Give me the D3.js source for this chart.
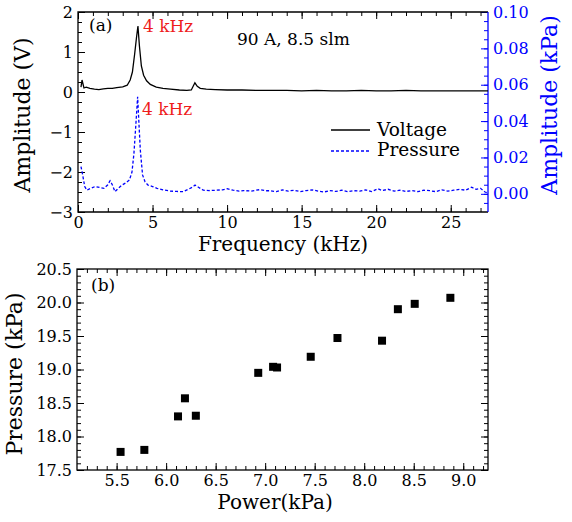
<!DOCTYPE html>
<html>
<head>
<meta charset="utf-8">
<script src="https://cdn.jsdelivr.net/npm/d3@7"></script>
<style>
  body { margin: 0; background: #fff; }
  text { font-family: "DejaVu Serif", serif; }
</style>
</head>
<body>
<svg id="chart" width="572" height="522"></svg>
<script>
// Panel (a): spectra
const voltFreq = [0.2, 0.27, 0.4, 0.55, 0.8, 1.1, 1.4, 1.7, 2.0, 2.3, 2.6, 3.0, 3.3, 3.5, 3.65, 3.8, 3.92, 4.02, 4.12, 4.25, 4.4, 4.6, 4.85, 5.25, 5.7, 6.2, 6.8, 7.3, 7.6, 7.84, 8.0, 8.2, 8.6, 9.2, 10, 11, 12, 13, 14, 15, 16, 17, 18, 19, 20, 21, 22, 23, 24, 25, 26, 27, 27.5]
const voltAmp = [0.12, 0.3, 0.1, 0.12, 0.09, 0.07, 0.06, 0.08, 0.09, 0.09, 0.11, 0.13, 0.17, 0.3, 0.5, 0.95, 1.35, 1.65, 1.15, 0.65, 0.42, 0.28, 0.19, 0.12, 0.09, 0.07, 0.05, 0.04, 0.05, 0.23, 0.14, 0.09, 0.07, 0.06, 0.05, 0.05, 0.04, 0.04, 0.04, 0.03, 0.04, 0.03, 0.03, 0.04, 0.03, 0.03, 0.04, 0.03, 0.03, 0.03, 0.03, 0.03, 0.03]

const presFreq = [0.2, 0.3, 0.45, 0.6, 0.85, 1.15, 1.45, 1.75, 2.0, 2.15, 2.3, 2.48, 2.7, 2.95, 3.2, 3.45, 3.62, 3.75, 3.88, 4.0, 4.08, 4.18, 4.33, 4.5, 4.7, 5.0, 5.3, 5.7, 6.2, 6.6, 7.05, 7.4, 7.65, 7.85, 8.1, 8.4, 8.8, 9.3, 9.7, 10.0, 10.4, 10.8, 11.1, 11.6, 12.2, 12.6, 12.9, 13.3, 13.7, 14.1, 14.5, 14.9, 15.3, 15.7, 16.1, 16.5, 16.9, 17.3, 17.7, 18.1, 18.5, 18.9, 19.3, 19.7, 20.1, 20.4, 20.8, 21.2, 21.6, 22.0, 22.4, 22.8, 23.2, 23.6, 24.0, 24.4, 24.8, 25.2, 25.6, 26.0, 26.4, 26.7, 27.0, 27.3, 27.5]
const presAmp = [0.015, 0.011, 0.004, 0.002, 0.003, 0.004, 0.0035, 0.003, 0.005, 0.0072, 0.005, 0.0012, 0.003, 0.0048, 0.006, 0.0076, 0.012, 0.022, 0.038, 0.0534, 0.04, 0.024, 0.0104, 0.0065, 0.0048, 0.004, 0.003, 0.0022, 0.0015, 0.0013, 0.0012, 0.0025, 0.0035, 0.0048, 0.0035, 0.002, 0.0018, 0.002, 0.0022, 0.0028, 0.002, 0.0015, 0.0018, 0.0015, 0.0023, 0.0017, 0.0017, 0.0012, 0.0022, 0.0015, 0.002, 0.0012, 0.0018, 0.0022, 0.0015, 0.001, 0.0018, 0.0013, 0.002, 0.0012, 0.0017, 0.0015, 0.0022, 0.0012, 0.0028, 0.0018, 0.0025, 0.0015, 0.002, 0.0013, 0.0018, 0.0012, 0.002, 0.0017, 0.0012, 0.0022, 0.0015, 0.002, 0.0025, 0.002, 0.0036, 0.0025, 0.003, 0.001, 0.0005]

const freqTicks = [0, 5, 10, 15, 20, 25]
const voltTicks = [-3, -2, -1, 0, 1, 2]
const presTicks = [0, 0.02, 0.04, 0.06, 0.08, 0.10]

// Panel (b): pressure vs power
const power = [5.54, 5.78, 6.12, 6.19, 6.30, 6.93, 7.08, 7.12, 7.46, 7.73, 8.18, 8.34, 8.51, 8.87]
const pressure = [17.77, 17.80, 18.30, 18.57, 18.31, 18.95, 19.04, 19.03, 19.19, 19.47, 19.43, 19.90, 19.98, 20.07]
const powerTicks = [5.5, 6.0, 6.5, 7.0, 7.5, 8.0, 8.5, 9.0]
const pressureTicks = [17.5, 18.0, 18.5, 19.0, 19.5, 20.0, 20.5]

const svg = d3.select('#chart')
const BLUE = '#0000ff'
const RED = '#ee1c1c'

// small helper: draw an axis, strip the domain line, style ticks
const drawAxis = (gen, transform, color, fontSize) => {
  let g = svg.append('g')
    .attr('transform', transform)
    .call(gen)
  g.select('.domain').remove()
  g.selectAll('line').attr('stroke', color).attr('stroke-width', 1)
  g.selectAll('text')
    .attr('fill', color)
    .style('font-size', fontSize + 'px')
    .style('font-family', '"DejaVu Serif", serif')
  return g
}

const range = (a, b, step) => d3.range(Math.round(a / step), Math.round(b / step) + 1).map(i => +(i * step).toFixed(4))

// ---------------- Panel (a) ----------------
const a = { left: 78, right: 488, top: 12, bottom: 212 }
const xA = d3.scaleLinear().domain([0, 27.5]).range([a.left, a.right])
const yA = d3.scaleLinear().domain([-3, 2]).range([a.bottom, a.top])
const yA2 = d3.scaleLinear().domain([-0.01, 0.10]).range([a.bottom, a.top])

// clip so curves stay in the box
svg.append('clipPath').attr('id', 'clipA')
  .append('rect').attr('x', a.left).attr('y', a.top)
  .attr('width', a.right - a.left).attr('height', a.bottom - a.top)

// bottom axis + minors + mirror on top
drawAxis(d3.axisBottom(xA).tickValues(freqTicks).tickSize(-7).tickPadding(5).tickFormat(d3.format('d')),
  `translate(0,${a.bottom})`, '#000', 16)
drawAxis(d3.axisBottom(xA).tickValues(range(0, 27, 1)).tickSize(-4).tickFormat(''),
  `translate(0,${a.bottom})`, '#000', 16)
drawAxis(d3.axisTop(xA).tickValues(freqTicks).tickSize(-7).tickFormat(''),
  `translate(0,${a.top})`, '#000', 16)
drawAxis(d3.axisTop(xA).tickValues(range(0, 27, 1)).tickSize(-4).tickFormat(''),
  `translate(0,${a.top})`, '#000', 16)

// left axis (V)
drawAxis(d3.axisLeft(yA).tickValues(voltTicks).tickSize(-7).tickPadding(5).tickFormat(d3.format('d')),
  `translate(${a.left},0)`, '#000', 16)
drawAxis(d3.axisLeft(yA).tickValues(range(-3, 2, 0.25)).tickSize(-4).tickFormat(''),
  `translate(${a.left},0)`, '#000', 16)

// right axis (kPa), blue
drawAxis(d3.axisRight(yA2).tickValues(presTicks).tickSize(-7).tickPadding(5).tickFormat(d3.format('.2f')),
  `translate(${a.right},0)`, BLUE, 16)
drawAxis(d3.axisRight(yA2).tickValues(range(-0.005, 0.10, 0.005)).tickSize(-4).tickFormat(''),
  `translate(${a.right},0)`, BLUE, 16)

// frame
svg.append('path')
  .attr('d', `M${a.right},${a.top}H${a.left}V${a.bottom}H${a.right}`)
  .attr('fill', 'none').attr('stroke', '#000').attr('stroke-width', 1.3)
svg.append('line')
  .attr('x1', a.right).attr('x2', a.right).attr('y1', a.top).attr('y2', a.bottom)
  .attr('stroke', BLUE).attr('stroke-width', 1.3)

// curves
const voltLine = d3.line().x(d => xA(d[0])).y(d => yA(d[1]))
const presLine = d3.line().x(d => xA(d[0])).y(d => yA2(d[1]))

svg.append('path')
  .datum(d3.zip(voltFreq, voltAmp))
  .attr('clip-path', 'url(#clipA)')
  .attr('d', voltLine)
  .attr('fill', 'none').attr('stroke', '#000').attr('stroke-width', 1.3)

svg.append('path')
  .datum(d3.zip(presFreq, presAmp))
  .attr('clip-path', 'url(#clipA)')
  .attr('d', presLine)
  .attr('fill', 'none').attr('stroke', BLUE).attr('stroke-width', 1.3)
  .attr('stroke-dasharray', '3,2')

// texts of panel (a)
svg.append('text').attr('x', 89).attr('y', 31).style('font-size', '17px').text('(a)')
svg.append('text').attr('x', 143).attr('y', 32).style('font-size', '17px').attr('fill', RED).text('4 kHz')
svg.append('text').attr('x', 142).attr('y', 115).style('font-size', '17px').attr('fill', RED).text('4 kHz')
svg.append('text').attr('x', 237).attr('y', 45).style('font-size', '17px').text('90 A, 8.5 slm')

// legend
svg.append('line').attr('x1', 331).attr('x2', 370).attr('y1', 130).attr('y2', 130)
  .attr('stroke', '#000').attr('stroke-width', 1.3)
svg.append('text').attr('x', 377).attr('y', 136).style('font-size', '18.5px').text('Voltage')
svg.append('line').attr('x1', 331).attr('x2', 370).attr('y1', 151).attr('y2', 151)
  .attr('stroke', BLUE).attr('stroke-width', 1.3).attr('stroke-dasharray', '3,2')
svg.append('text').attr('x', 377).attr('y', 156).style('font-size', '18.5px').text('Pressure')

// axis titles (a)
svg.append('text')
  .attr('transform', 'translate(30,115) rotate(-90)')
  .attr('text-anchor', 'middle').style('font-size', '22px')
  .text('Amplitude (V)')
svg.append('text')
  .attr('transform', 'translate(557,105) rotate(-90)')
  .attr('text-anchor', 'middle').style('font-size', '22px').attr('fill', BLUE)
  .text('Amplitude (kPa)')
svg.append('text')
  .attr('x', 283).attr('y', 251)
  .attr('text-anchor', 'middle').style('font-size', '20px')
  .text('Frequency (kHz)')

// ---------------- Panel (b) ----------------
const b = { left: 77, right: 488, top: 269, bottom: 470 }
const xB = d3.scaleLinear().domain([5.1, 9.25]).range([b.left, b.right])
const yB = d3.scaleLinear().domain([17.5, 20.5]).range([b.bottom, b.top])

drawAxis(d3.axisBottom(xB).tickValues(powerTicks).tickSize(-7).tickPadding(5).tickFormat(d3.format('.1f')),
  `translate(0,${b.bottom})`, '#000', 16)
drawAxis(d3.axisBottom(xB).tickValues(range(5.2, 9.2, 0.1)).tickSize(-4).tickFormat(''),
  `translate(0,${b.bottom})`, '#000', 16)
drawAxis(d3.axisTop(xB).tickValues(powerTicks).tickSize(-7).tickFormat(''),
  `translate(0,${b.top})`, '#000', 16)
drawAxis(d3.axisTop(xB).tickValues(range(5.2, 9.2, 0.1)).tickSize(-4).tickFormat(''),
  `translate(0,${b.top})`, '#000', 16)

drawAxis(d3.axisLeft(yB).tickValues(pressureTicks).tickSize(-7).tickPadding(5).tickFormat(d3.format('.1f')),
  `translate(${b.left},0)`, '#000', 16)
drawAxis(d3.axisLeft(yB).tickValues(range(17.5, 20.5, 0.1)).tickSize(-4).tickFormat(''),
  `translate(${b.left},0)`, '#000', 16)
drawAxis(d3.axisRight(yB).tickValues(pressureTicks).tickSize(-7).tickFormat(''),
  `translate(${b.right},0)`, '#000', 16)
drawAxis(d3.axisRight(yB).tickValues(range(17.5, 20.5, 0.1)).tickSize(-4).tickFormat(''),
  `translate(${b.right},0)`, '#000', 16)

svg.append('rect')
  .attr('x', b.left).attr('y', b.top)
  .attr('width', b.right - b.left).attr('height', b.bottom - b.top)
  .attr('fill', 'none').attr('stroke', '#000').attr('stroke-width', 1.3)

// square markers
const m = 8
svg.append('g').selectAll('rect')
  .data(d3.zip(power, pressure))
  .join('rect')
  .attr('x', d => xB(d[0]) - m / 2)
  .attr('y', d => yB(d[1]) - m / 2)
  .attr('width', m).attr('height', m)
  .attr('fill', '#000')

svg.append('text').attr('x', 91).attr('y', 291).style('font-size', '17px').text('(b)')

svg.append('text')
  .attr('transform', 'translate(22,374) rotate(-90)')
  .attr('text-anchor', 'middle').style('font-size', '22px')
  .text('Pressure (kPa)')
svg.append('text')
  .attr('x', 275).attr('y', 509)
  .attr('text-anchor', 'middle').style('font-size', '20px')
  .text('Power(kPa)')
</script>
</body>
</html>
